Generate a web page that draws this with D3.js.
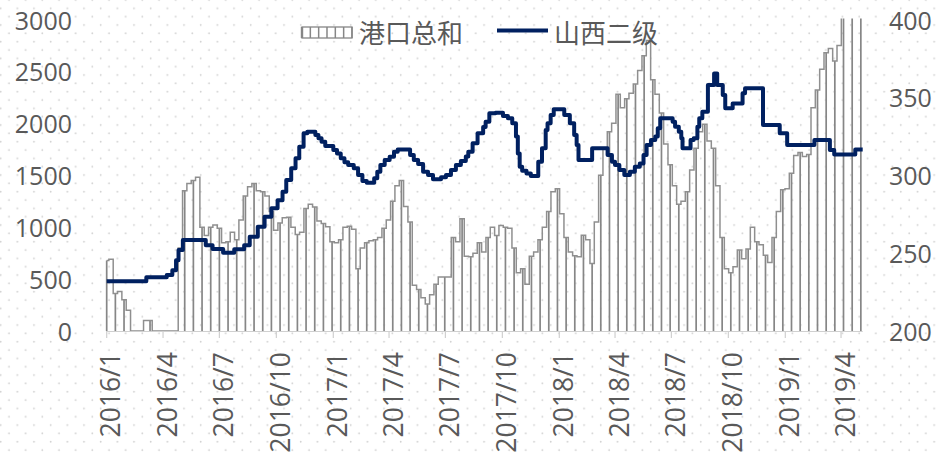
<!DOCTYPE html>
<html><head><meta charset="utf-8">
<script src="https://cdn.jsdelivr.net/npm/d3@7"></script>
<style>
html,body{margin:0;padding:0;background:#fff;}
svg{display:block;}
text{font-family:"Open Sans","Noto Sans",sans-serif;fill:#595959;}
.cjk{font-family:"Noto Sans CJK SC","Noto Sans",sans-serif;}
</style></head>
<body>
<svg id="chart" width="941" height="456"></svg>
<script>
// ---------- DATA ----------
const seriesNames = ["港口总和", "山西二级"];
// 港口总和: weekly readings starting 2016-01-01 (left axis)
const portStart = "2016-01-01";
const portValues = [
  680,690,360,380,300,200,0,0,0,100,100,0,0,0,0,0,0,
  800,1350,1420,1450,1480,1000,920,1000,1020,990,850,860,950,880,
  1070,1300,1390,1420,1350,1340,1300,1150,970,1040,1090,1095,1000,930,950,
  1180,1220,1195,1060,1035,1005,860,850,880,1000,1010,980,600,800,850,870,
  880,900,990,1070,1250,1400,1450,1200,1050,440,400,320,260,350,450,520,
  520,520,900,860,1080,720,714,750,850,760,900,1000,920,1015,1000,990,800,
  560,600,450,720,760,880,1000,1150,1340,1370,1130,900,760,725,714,923,880,
  650,1050,1500,1750,1920,2000,2280,2150,2237,2290,2380,2510,2650,2798,2420,
  2280,2100,1800,1600,1400,1220,1250,1340,1550,1760,1920,1990,1830,1760,1400,
  900,600,560,618,780,695,790,1000,860,830,730,660,900,1150,1360,1370,1520,
  1690,1720,1680,1700,2150,2320,2520,2680,2720,2600,2750,3050,3100,3150,3200,3250
];
// 山西二级: price change dates and values (right axis)
const priceDates = [
  "2016-01-01","2016-03-05","2016-04-07","2016-04-16","2016-04-22","2016-04-26","2016-05-03",
  "2016-06-09","2016-06-20","2016-07-07","2016-07-25","2016-08-10","2016-08-19","2016-09-01",
  "2016-09-12","2016-09-23","2016-10-03","2016-10-11","2016-10-17","2016-10-25","2016-11-01",
  "2016-11-07","2016-11-14","2016-11-20","2016-12-03","2016-12-08","2016-12-13","2016-12-19",
  "2017-01-01","2017-01-07","2017-01-13","2017-01-19","2017-01-25","2017-02-03","2017-02-10",
  "2017-02-17","2017-02-24","2017-03-08","2017-03-13","2017-03-18","2017-03-25","2017-04-02",
  "2017-04-09","2017-04-15","2017-05-05","2017-05-11","2017-05-18","2017-05-26","2017-06-03",
  "2017-06-11","2017-06-24","2017-07-02","2017-07-10","2017-07-18","2017-07-26","2017-08-03",
  "2017-08-07","2017-08-14","2017-08-22","2017-08-31","2017-09-04","2017-09-10","2017-09-20",
  "2017-10-02","2017-10-10","2017-10-17","2017-10-23","2017-10-26","2017-10-29","2017-11-02",
  "2017-11-09","2017-11-16","2017-11-28","2017-12-04","2017-12-10","2017-12-13","2017-12-18",
  "2017-12-23","2018-01-09","2018-01-18","2018-01-25","2018-01-29","2018-02-01","2018-02-23",
  "2018-03-20","2018-03-27","2018-04-01","2018-04-08","2018-04-16","2018-04-25","2018-05-03",
  "2018-05-11","2018-05-17","2018-05-22","2018-05-29","2018-06-05","2018-06-09","2018-06-13",
  "2018-07-03","2018-07-07","2018-07-13","2018-07-17","2018-07-19","2018-08-01","2018-08-06",
  "2018-08-12","2018-08-15","2018-08-20","2018-08-29","2018-09-08","2018-09-13","2018-09-22",
  "2018-09-26","2018-10-08","2018-10-24","2018-10-28","2018-11-26","2018-12-23","2019-01-04",
  "2019-02-17","2019-03-14","2019-03-21","2019-04-24"
];
const priceValues = [
  232,234.5,236,239,245.5,252,258.4,
  255,252.6,250.3,252.5,255,260.5,267,
  273.4,278.8,284,289.4,297,304.5,310.9,
  318.3,326.9,328,325.8,323.7,321.5,318.8,
  316.2,314,310.9,308.3,306.6,304.5,300.2,
  296.3,295.2,298,302.3,306.6,309.8,311.9,
  315.1,316.6,313,309.8,307.2,302.3,300.2,
  297.4,298.7,300.2,303.4,306.6,309.2,312,
  315.1,320.5,326.9,331,334.4,339.8,340.2,
  338,336.6,333.4,324.8,314,305.5,302.9,
  301.2,299.5,308.7,317.3,329,333.4,338.7,
  342.3,338.7,333.4,325.8,319.4,309.8,317.3,
  313,308.7,306.6,303.4,300.2,302.3,305.5,
  307.6,313,319.4,322.6,324.8,330.1,336.6,
  334.4,331.2,328,323.7,317.3,322.6,323.7,
  331.2,336.6,340.8,357.9,365.4,357.9,351.5,
  343,346.1,352.6,355.8,332.3,327,319.4,
  322.6,316.2,313.4,316.6
];
const xTickLabels = ["2016/1","2016/4","2016/7","2016/10","2017/1","2017/4","2017/7","2017/10",
  "2018/1","2018/4","2018/7","2018/10","2019/1","2019/4"];
const leftTicks = [0,500,1000,1500,2000,2500,3000];
const rightTicks = [200,250,300,350,400];
const xDomain = ["2016-01-01","2019-05-06"];

// ---------- SETUP ----------
const parse = d3.timeParse("%Y-%m-%d");
const W = 941, H = 456;
const M = {left:106.7, right:862.7, top:19.5, bottom:331};
const svg = d3.select("#chart");

const x = d3.scaleTime().domain(xDomain.map(parse)).range([M.left, M.right]);
const yL = d3.scaleLinear().domain([0,3000]).range([M.bottom, M.top]);
const yR = d3.scaleLinear().domain([200,400]).range([M.bottom, M.top]);

// dotted background
const defs = svg.append("defs");
const pat = defs.append("pattern").attr("id","dots").attr("patternUnits","userSpaceOnUse")
  .attr("x",4.83).attr("y",-4.17).attr("width",16.67).attr("height",16.67);
pat.append("circle").attr("cx",4.17).attr("cy",4.17).attr("r",0.9).attr("fill","#d2d2d2");
pat.append("circle").attr("cx",12.5).attr("cy",12.5).attr("r",0.9).attr("fill","#d2d2d2");
svg.append("rect").attr("width",W).attr("height",H).attr("fill","#fff");
svg.append("rect").attr("width",W).attr("height",H).attr("fill","url(#dots)");

defs.append("clipPath").attr("id","plotclip").append("rect")
  .attr("x",M.left-2).attr("y",M.top-1).attr("width",M.right-M.left+4).attr("height",M.bottom-M.top+2);

const start = parse(portStart);
const portData = portValues.map((v,i)=>({date:d3.timeDay.offset(start,7*i), value:v}));
const priceData = priceDates.map((d,i)=>({date:parse(d), value:priceValues[i]}));
priceData.push({date:x.domain()[1], value:priceValues[priceValues.length-1]});

const plot = svg.append("g").attr("clip-path","url(#plotclip)");
const grey = "#868686";

// bars (vertical strokes every other reading)
plot.append("g").selectAll("line")
  .data(portData.filter((d,i)=>i%2===0 && d.value>0))
  .join("line")
  .attr("x1",d=>x(d.date)).attr("x2",d=>x(d.date))
  .attr("y1",d=>yL(d.value)).attr("y2",yL(0))
  .attr("stroke",grey).attr("stroke-width",1.7);

// bar top outline
plot.append("path").datum(portData)
  .attr("d", d3.line().x(d=>x(d.date)).y(d=>yL(d.value)).curve(d3.curveStep))
  .attr("fill","none").attr("stroke","#8f8f8f").attr("stroke-width",1.5);

// x axis
const xAxisG = svg.append("g");
xAxisG.append("line").attr("x1",M.left).attr("x2",M.right).attr("y1",M.bottom+0.5).attr("y2",M.bottom+0.5)
  .attr("stroke","#d0d0d0").attr("stroke-width",1.2);
const tickDates = xTickLabels.map(s=>{const [yy,mm]=s.split("/"); return new Date(+yy, +mm-1, 1);});
xAxisG.selectAll("line.tk").data(tickDates).join("line").attr("class","tk")
  .attr("x1",d=>x(d)).attr("x2",d=>x(d)).attr("y1",M.bottom).attr("y2",M.bottom+7)
  .attr("stroke","#d0d0d0").attr("stroke-width",1.2);
xAxisG.selectAll("text").data(xTickLabels).join("text")
  .attr("transform",(d,i)=>`translate(${x(tickDates[i])+3.5},352) rotate(-90)`)
  .attr("text-anchor","end").attr("dominant-baseline","central")
  .style("font-size","26.5px").text(d=>d);

// line series
plot.append("path").datum(priceData)
  .attr("d", d3.line().x(d=>x(d.date)).y(d=>yR(d.value)).curve(d3.curveStepAfter))
  .attr("fill","none").attr("stroke","#002060").attr("stroke-width",4)
  .attr("stroke-linejoin","round");

// y labels
svg.append("g").selectAll("text").data(leftTicks).join("text")
  .attr("x",72).attr("y",d=>yL(d)).attr("text-anchor","end").attr("dominant-baseline","central")
  .style("font-size","25px").text(d=>d);
svg.append("g").selectAll("text").data(rightTicks).join("text")
  .attr("x",889).attr("y",d=>yR(d)).attr("text-anchor","start").attr("dominant-baseline","central")
  .style("font-size","25px").text(d=>d);

// legend
const lg = svg.append("g");
lg.append("rect").attr("x",302).attr("y",27).attr("width",50).attr("height",11)
  .attr("fill","#fff").attr("stroke",grey).attr("stroke-width",1.3);
lg.selectAll("line.lv").data(d3.range(7)).join("line").attr("class","lv")
  .attr("x1",d=>302+d*8.33).attr("x2",d=>302+d*8.33).attr("y1",27).attr("y2",38)
  .attr("stroke",grey).attr("stroke-width",d=>d===0?2.4:1.5);
lg.append("text").attr("class","cjk").attr("x",359).attr("y",31).attr("dominant-baseline","central")
  .style("font-size","26px").text(seriesNames[0]);
lg.append("line").attr("x1",497).attr("x2",548).attr("y1",30.5).attr("y2",30.5)
  .attr("stroke","#002060").attr("stroke-width",4);
lg.append("text").attr("class","cjk").attr("x",554).attr("y",31).attr("dominant-baseline","central")
  .style("font-size","26px").text(seriesNames[1]);
</script>
</body></html>
